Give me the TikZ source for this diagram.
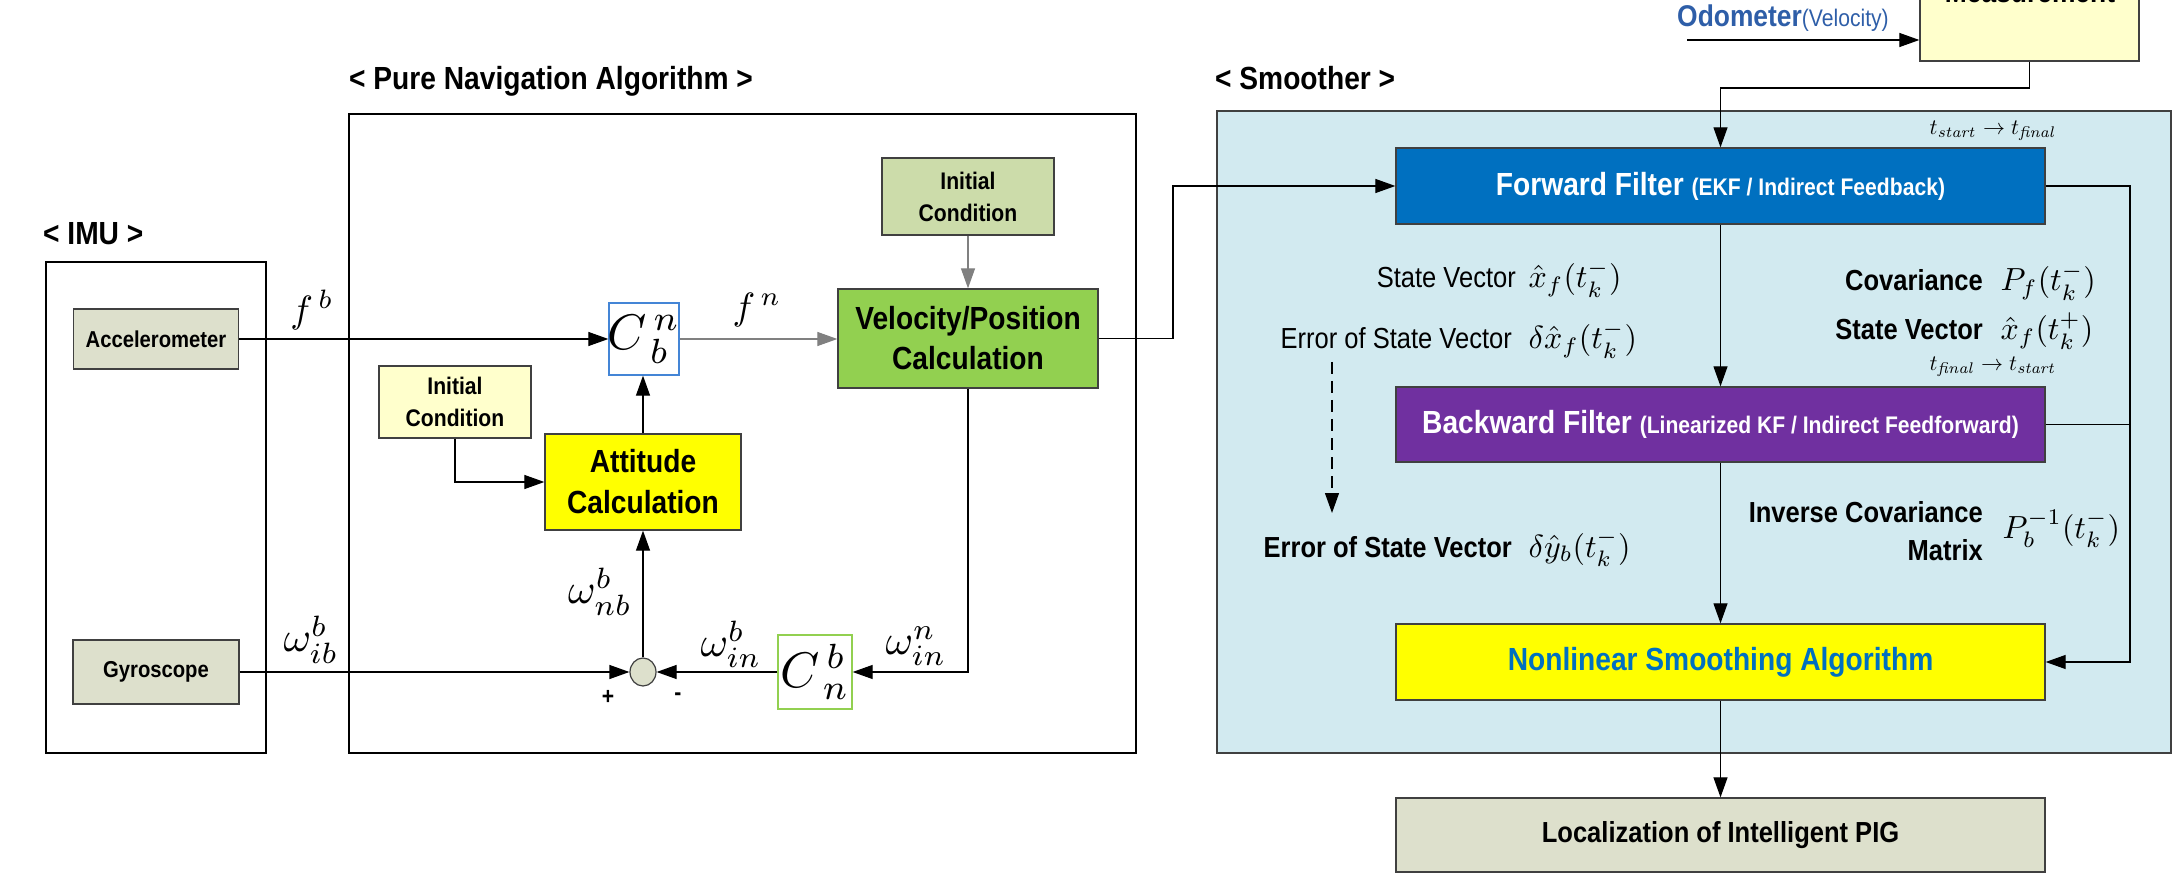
\documentclass[tikz,border=0pt]{standalone}
\usepackage[no-math]{fontspec}
\setmainfont{Liberation Sans}[FakeStretch=0.88]
\usetikzlibrary{arrows.meta,shapes.geometric}
\newcommand\fsz[2]{\fontsize{#1}{#2}\selectfont}
\definecolor{accfill}{RGB}{221,224,204}
\definecolor{icfill}{RGB}{255,255,204}
\definecolor{ictwofill}{RGB}{204,220,170}
\definecolor{velfill}{RGB}{146,208,80}
\definecolor{attfill}{RGB}{255,255,0}
\definecolor{cbnblue}{RGB}{68,133,214}
\definecolor{cnbgreen}{RGB}{146,208,80}
\definecolor{smfill}{RGB}{210,234,240}
\definecolor{fwdfill}{RGB}{0,112,192}
\definecolor{bwdfill}{RGB}{112,48,160}
\definecolor{nlsblue}{RGB}{0,112,192}
\definecolor{odoblue}{RGB}{46,94,168}
\definecolor{boxline}{RGB}{64,64,64}
\tikzset{
  box/.style={draw=boxline, line width=1.3pt, inner sep=0pt, align=center},
  conn/.style={line width=1.2pt, draw=black, -{Triangle[length=20pt,width=14pt]}},
  plain/.style={line width=1.2pt, draw=black},
  ttl/.style={font=\bfseries\fsz{32}{38}, inner sep=0pt},
  lbl/.style={inner sep=0pt},
  mth/.style={inner sep=0pt, scale=#1},
  frame/.style={draw=black, line width=1.3pt},
}
\begin{document}
\begin{tikzpicture}[x=1pt,y=-1pt]
\useasboundingbox (0,0) rectangle (2174,874);
\clip (0,0) rectangle (2174,874);

% group frames
\draw[frame] (46,262) rectangle (266,753);
\draw[frame] (349,114) rectangle (1136,753);
\draw[draw=boxline, line width=1.5pt, fill=smfill] (1217,111) rectangle (2171,753);

% titles
\node[ttl, anchor=base west] (timu) at (43,245) {< IMU >};
\node[ttl, anchor=base west] (tpna) at (349,90) {< Pure Navigation Algorithm >};
\node[ttl, anchor=base west] (tsm) at (1215,90) {< Smoother >};

% IMU
\node[box, fill=accfill, minimum width=165, minimum height=60, font=\bfseries\fsz{23}{28}] (acc) at (156,339) {Accelerometer};
\node[box, fill=accfill, minimum width=166, minimum height=64, font=\bfseries\fsz{23}{28}] (gyro) at (156,672) {Gyroscope};

% Pure navigation
\node[box, draw=cbnblue, fill=white, minimum width=70, minimum height=72] (cbn) at (644,339) {};
\node[mth=5.0] (cbnl) at (cbn.center) {$C^{\,n}_{\,b}$};
\node[box, fill=icfill, minimum width=152, minimum height=72, font=\bfseries\fsz{24}{32}] (ic1) at (455,402) {Initial\\Condition};
\node[box, fill=attfill, minimum width=196, minimum height=96, font=\bfseries\fsz{32}{41}] (att) at (643,482) {Attitude\\Calculation};
\node[box, fill=ictwofill, minimum width=172, minimum height=77, font=\bfseries\fsz{24}{32}] (ic2) at (968,196.5) {Initial\\Condition};
\node[box, fill=velfill, minimum width=260, minimum height=99, font=\bfseries\fsz{32}{40}] (vel) at (968,338.5) {Velocity/Position\\Calculation};
\node[draw=boxline, line width=1.2pt, fill=accfill, ellipse, minimum width=26, minimum height=28, inner sep=0pt] (sum) at (643,672) {};
\node[box, draw=cnbgreen, fill=white, minimum width=74, minimum height=74] (cnb) at (815,672) {};
\node[mth=5.0] (cnbl) at (cnb.center) {$C^{\,b}_{\,n}$};

% Smoother
\node[box, fill=fwdfill, minimum width=649, minimum height=76, text=white, font=\bfseries\fsz{32}{38}] (fwd) at (1720.5,186) {Forward Filter {\fsz{24}{30}(EKF / Indirect Feedback)}};
\node[box, fill=bwdfill, minimum width=649, minimum height=75, text=white, font=\bfseries\fsz{32}{38}] (bwd) at (1720.5,424.5) {Backward Filter {\fsz{24}{30}(Linearized KF / Indirect Feedforward)}};
\node[box, fill=attfill, minimum width=649, minimum height=76, text=nlsblue, font=\bfseries\fsz{32}{38}] (nls) at (1720.5,662) {Nonlinear Smoothing Algorithm};
\node[box, fill=accfill, minimum width=649, minimum height=74, font=\bfseries\fsz{29}{35}] (loc) at (1720.5,835) {Localization of Intelligent PIG};
\node[box, fill=icfill, minimum width=219, minimum height=121] (meas) at (2029.5,0.5) {};
\node[lbl, anchor=base, font=\bfseries\fsz{30}{36}] (meastxt) at (2030,3) {Measurement};

% Odometer
\node[lbl, anchor=base west, text=odoblue] (odotxt) at (1677,27) {\bfseries\fsz{30}{36}Odometer\mdseries\fsz{24}{30}(Velocity)};

% connectors (pure navigation)
\draw[conn] (acc.east) -- (acc.east -| cbn.west);
\draw[conn] (ic1.south) |- (att.west);
\draw[conn] (att.north) -- (att.north |- cbn.south);
\draw[conn, draw=gray] (cbn.east) -- (cbn.east -| vel.west);
\draw[conn, draw=gray] (ic2.south) -- (vel.north);
\draw[conn] (vel.south) |- (cnb.east);
\draw[conn] (cnb.west) -- (sum.east);
\draw[conn] (gyro.east) -- (sum.west);
\draw[conn] (sum.north) -- (sum.north |- att.south);

% connectors (smoother)
\coordinate (vturn) at (1173,339);
\draw[conn] (vel.east) -- (vel.east -| vturn) |- (fwd.west);
\coordinate (odostart) at (1687,40);
\draw[conn] (odostart) -- (odostart -| meas.west);
\coordinate (mturn) at (2030,88);
\draw[conn] (meas.south) -- (meas.south |- mturn) -| (fwd.north);
\draw[conn] (fwd.south) -- (bwd.north);
\coordinate (rturn) at (2130,187);
\draw[conn] (fwd.east) -| (rturn |- nls.east) -- (nls.east);
\draw[plain] (bwd.east) -- (bwd.east -| rturn);
\coordinate (dstart) at (1332,362);
\coordinate (dend) at (1332,513);
\draw[conn, dash pattern=on 12pt off 7pt] (dstart) -- (dend);
\draw[conn] (bwd.south) -- (nls.north);
\draw[conn] (nls.south) -- (loc.north);

% math labels (pure navigation)
\node[mth=3.8] (lfb) at (312,310) {$f^{\,b}$};
\node[mth=3.8] (lfn) at (757,310) {$f^{\,n}$};
\node[mth=4.2] (lwib) at (311,640) {$\omega_{ib}^{b}$};
\node[mth=4.2] (lwnb) at (600,592) {$\omega_{nb}^{b}$};
\node[mth=4.2] (lwinb) at (731,644) {$\omega_{in}^{b}$};
\node[mth=4.2] (lwinn) at (916,646) {$\omega_{in}^{n}$};
\node[lbl, font=\bfseries\fsz{24}{28}] (plus) at (608,697) {+};
\node[lbl, font=\bfseries\fsz{24}{28}] (minus) at (678,697) {-};

% smoother labels
\node[lbl, anchor=base east, font=\fsz{29}{34}] (sv1) at (1516,288) {State Vector};
\node[mth=3.2, anchor=base west] (sv1m) at (1528,288) {$\hat{x}_f(t_k^-)$};
\node[lbl, anchor=base east, font=\fsz{29}{34}] (es1) at (1512,349) {Error of State Vector};
\node[mth=3.2, anchor=base west] (es1m) at (1528,349) {$\delta\hat{x}_f(t_k^-)$};
\node[lbl, anchor=base east, font=\bfseries\fsz{29}{34}] (cov) at (1983,291) {Covariance};
\node[mth=3.2, anchor=base west] (covm) at (2000,291) {$P_f(t_k^-)$};
\node[lbl, anchor=base east, font=\bfseries\fsz{29}{34}] (sv2) at (1983,340) {State Vector};
\node[mth=3.2, anchor=base west] (sv2m) at (2000,340) {$\hat{x}_f(t_k^+)$};
\node[mth=2.2] (tsf) at (1993,131) {$t_{\mathit{start}}\rightarrow t_{\mathit{final}}$};
\node[mth=2.2] (tfs) at (1993,367) {$t_{\mathit{final}}\rightarrow t_{\mathit{start}}$};
\node[lbl, anchor=base east, font=\bfseries\fsz{29}{34}] (es2) at (1512,557) {Error of State Vector};
\node[mth=3.2, anchor=base west] (es2m) at (1528,557) {$\delta\hat{y}_b(t_k^-)$};
\node[lbl, anchor=base east, font=\bfseries\fsz{29}{34}] (icov) at (1983,522) {Inverse Covariance};
\node[lbl, anchor=base east, font=\bfseries\fsz{29}{34}] (mat) at (1983,560) {Matrix};
\node[mth=3.2, anchor=base west] (icovm) at (2002,538) {$P_b^{-1}(t_k^-)$};
\end{tikzpicture}
\end{document}
